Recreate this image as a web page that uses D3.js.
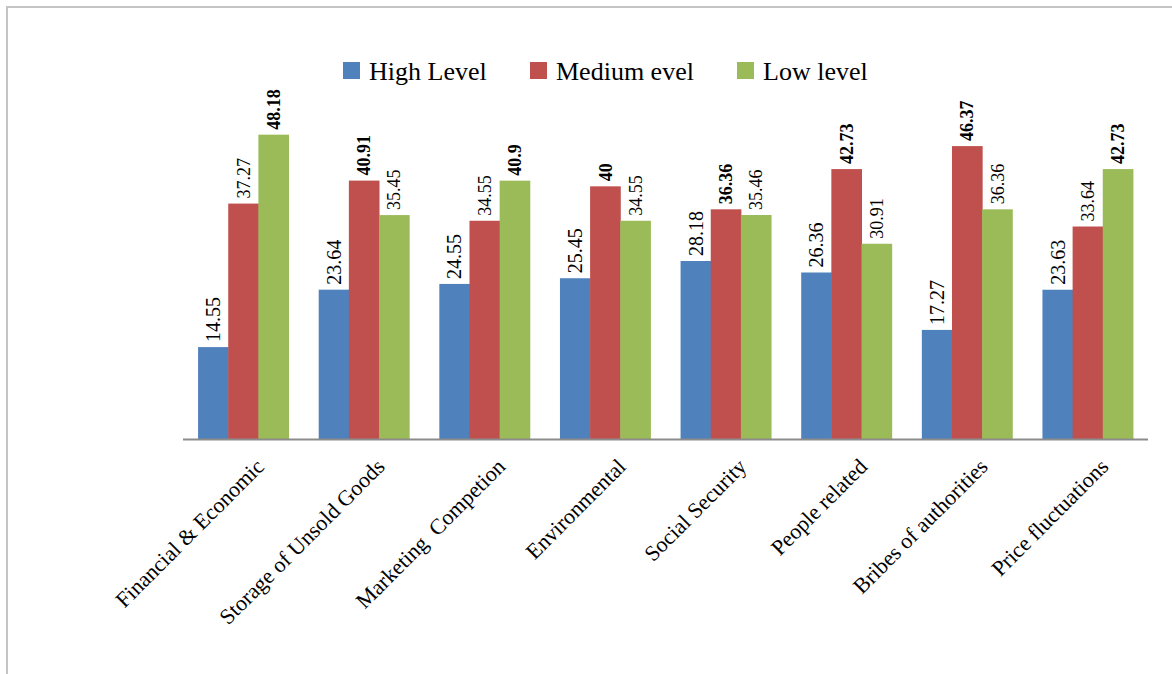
<!DOCTYPE html>
<html>
<head>
<meta charset="utf-8">
<script src="https://d3js.org/d3.v7.min.js"></script>
<style>
  body { margin: 0; background: #fff; }
  svg { display: block; font-family: "Liberation Serif", "Times New Roman", serif; }
</style>
</head>
<body>
<div id="chart"></div>
<script>
var categories = ["Financial & Economic", "Storage of Unsold Goods", "Marketing  Competion",
    "Environmental", "Social Security", "People related", "Bribes of authorities", "Price fluctuations"];
var seriesNames = ["High Level", "Medium evel", "Low level"];
var highLevel = [14.55, 23.64, 24.55, 25.45, 28.18, 26.36, 17.27, 23.63];
var mediumLevel = [37.27, 40.91, 34.55, 40, 36.36, 42.73, 46.37, 33.64];
var lowLevel = [48.18, 35.45, 40.9, 34.55, 35.46, 30.91, 36.36, 42.73];
var yDomain = [0, 60];

var width = 1172, height = 674;
var margin = { top: 60, right: 24, bottom: 235, left: 183 };
var colors = ["#4F81BD", "#C0504D", "#9BBB59"];
var series = [highLevel, mediumLevel, lowLevel];

var svg = d3.select("#chart").append("svg")
    .attr("width", width)
    .attr("height", height);

// outer frame (right / bottom edges fall outside the picture)
svg.append("rect")
    .attr("x", 7).attr("y", 7)
    .attr("width", 1200).attr("height", 700)
    .attr("fill", "none")
    .attr("stroke", "#c4c4c4")
    .attr("stroke-width", 2);

var x0 = d3.scaleBand()
    .domain(categories)
    .range([margin.left, width - margin.right])
    .paddingInner(0.25)
    .paddingOuter(0.125);

var x1 = d3.scaleBand()
    .domain(d3.range(series.length))
    .range([0, x0.bandwidth()]);

var y = d3.scaleLinear()
    .domain(yDomain)
    .range([height - margin.bottom, margin.top]);

var rows = categories.map(function (c, i) {
    var vals = series.map(function (s) { return s[i]; });
    var mx = d3.max(vals);
    return {
        name: c,
        values: vals.map(function (v, k) { return { k: k, value: v, top: v === mx }; })
    };
});

var groups = svg.selectAll(".grp")
    .data(rows)
    .enter().append("g")
    .attr("class", "grp")
    .attr("transform", function (d) { return "translate(" + x0(d.name) + ",0)"; });

groups.selectAll("rect")
    .data(function (d) { return d.values; })
    .enter().append("rect")
    .attr("x", function (d) { return x1(d.k); })
    .attr("width", x1.bandwidth() + 0.5)
    .attr("y", function (d) { return y(d.value); })
    .attr("height", function (d) { return y(0) - y(d.value); })
    .attr("fill", function (d) { return colors[d.k]; });

// value labels, rotated
groups.selectAll(".val")
    .data(function (d) { return d.values; })
    .enter().append("text")
    .attr("class", "val")
    .attr("transform", function (d) {
        return "translate(" + (x1(d.k) + x1.bandwidth() / 2) + "," + (y(d.value) - 5) + ") rotate(-90)";
    })
    .attr("dy", "0.35em")
    .attr("font-size", function (d) { return d.k === 0 ? "20px" : "18px"; })
    .attr("font-weight", function (d) { return d.top ? "bold" : "normal"; })
    .attr("fill", "#000")
    .text(function (d) { return String(d.value); });

// x axis line
svg.append("line")
    .attr("x1", margin.left).attr("x2", width - margin.right)
    .attr("y1", y(0) + 0.5).attr("y2", y(0) + 0.5)
    .attr("stroke", "#8c8c8c")
    .attr("stroke-width", 2);

// category labels
svg.selectAll(".cat")
    .data(categories)
    .enter().append("text")
    .attr("class", "cat")
    .attr("transform", function (d) {
        return "translate(" + (x0(d) + x0.bandwidth() / 2 + 22) + "," + (y(0) + 29) + ") rotate(-45)";
    })
    .attr("text-anchor", "end")
    .attr("font-size", "22px")
    .style("white-space", "pre")
    .attr("fill", "#000")
    .text(function (d) { return d; });

// legend
var legendX = [343, 530, 737];
var legend = svg.selectAll(".leg")
    .data(seriesNames)
    .enter().append("g")
    .attr("class", "leg")
    .attr("transform", function (d, i) { return "translate(" + legendX[i] + ",62)"; });

legend.append("rect")
    .attr("width", 17).attr("height", 17)
    .attr("fill", function (d, i) { return colors[i]; });

legend.append("text")
    .attr("x", 26)
    .attr("y", 18)
    .attr("font-size", "26px")
    .attr("fill", "#000")
    .text(function (d) { return d; });
</script>
</body>
</html>
